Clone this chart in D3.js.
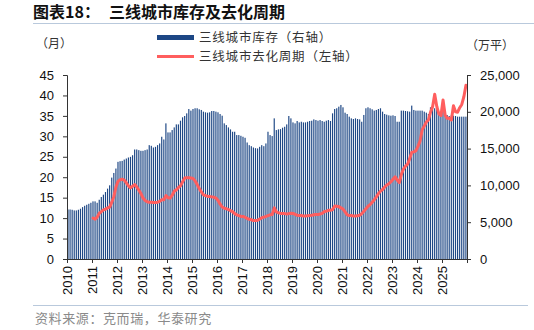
<!DOCTYPE html>
<html>
<head>
<meta charset="utf-8">
<script src="https://cdn.jsdelivr.net/npm/d3@7/dist/d3.min.js"></script>
<style>
  html, body { margin: 0; padding: 0; background: #fff; }
  svg { display: block; }
  text { font-family: "Liberation Sans", Arial, sans-serif; }
  .cjk { font-family: "Noto Sans CJK SC", "Noto Sans", sans-serif; }
</style>
</head>
<body>
<svg id="chart" width="534" height="330"></svg>
<script>
// ---------------- DATA ----------------
const titleLabel = "图表18：";
const titleText = "三线城市库存及去化周期";
const sourceText = "资料来源：克而瑞，华泰研究";
const leftUnit = "（月）";
const rightUnit = "（万平）";
const seriesNames = ["三线城市库存（右轴）", "三线城市去化周期（左轴）"];

const startYear = 2010;
const yearTicks = [2010,2011,2012,2013,2014,2015,2016,2017,2018,2019,2020,2021,2022,2023,2024,2025,2026];
const yearLabels = ["2010","2011","2012","2013","2014","2015","2016","2017","2018","2019","2020","2021","2022","2023","2024","2025",""];
const leftTicks = [0,5,10,15,20,25,30,35,40,45];
const rightTicks = [0,5000,10000,15000,20000,25000];

// 三线城市库存（万平）, monthly from 2010-01
const inventory = [
  6730,6730,6690,6600,6600,6690,6830,7050,7230,7370,7500,7640,
  7830,7830,7640,8050,8420,8740,9100,9560,10010,11060,11690,12290,
  13200,13290,13330,13510,13650,13790,13880,14100,14880,14880,14790,14700,
  14700,14790,14880,15470,15380,15150,15240,15470,15700,16610,16240,18430,
  17200,17200,17520,17880,18290,18290,18790,19250,19430,19790,20380,20160,
  20380,20480,20480,20340,20250,20020,19930,19880,19930,20110,20110,20020,
  19930,19700,19470,18430,18200,17880,17610,17290,17290,16840,16840,16740,
  16610,16470,15830,15470,15330,15150,15060,15020,15240,15470,15330,15700,
  17290,16840,16700,19110,17520,17610,17650,17840,17970,18290,19430,19110,
  18560,18430,18750,18560,18650,18560,18560,18650,18750,18790,18970,18880,
  18790,18880,18750,18650,18790,18880,18750,19790,20380,20480,20700,20930,
  20610,19880,19700,19340,19110,19020,19110,19020,18970,18650,19570,20480,
  20610,20480,20340,20160,20250,20380,20480,20020,19700,19610,19520,19470,
  19520,19430,18650,18650,20160,20160,20110,20070,20020,20840,20250,20160,
  20160,20160,20160,20020,19880,19700,20610,20840,20480,20480,19880,19570,
  21380,19790,19570,19430,19520,19470,19430,19340,19340,19340,19340,19340
];

// 三线城市去化周期（月）, monthly from 2011-01
const cycleStartIndex = 12;
const cycle = [
  10.0,9.75,10.25,11.2,11.6,12.0,12.2,12.5,12.7,13.9,15.3,17.6,
  19.0,19.4,19.5,19.3,18.6,17.9,17.4,17.8,18.2,17.6,16.8,16.0,
  14.9,14.3,14.0,13.9,13.9,13.8,13.8,13.9,14.1,14.5,14.5,15.5,
  15.0,14.9,15.6,16.6,16.9,17.5,17.9,18.9,19.8,19.9,19.9,19.8,
  19.7,19.1,18.2,17.2,16.4,15.7,15.5,15.3,15.3,15.2,15.1,14.9,
  14.3,13.4,12.7,12.4,12.3,12.1,11.8,11.6,11.1,10.8,10.6,10.4,
  10.4,10.2,9.9,9.7,9.6,9.4,9.4,9.5,9.75,10.1,10.25,10.4,
  10.6,10.8,10.9,12.5,11.5,11.3,11.15,11.1,11.1,11.0,11.1,11.2,
  11.15,10.9,10.7,10.65,10.65,10.5,10.5,10.6,10.65,10.7,10.8,10.9,
  10.9,11.0,11.15,11.6,11.7,11.9,11.9,12.1,12.95,12.9,12.8,12.5,
  12.2,11.5,10.8,10.65,10.65,10.5,10.5,10.6,10.7,11.1,11.7,12.3,
  12.9,13.3,13.9,14.5,15.2,16.0,16.6,17.0,17.6,18.1,18.4,18.9,
  19.5,20.1,19.3,18.7,20.7,22.0,22.7,23.2,24.6,26.1,26.2,26.5,
  27.6,28.9,31.6,32.5,33.5,34.0,35.9,37.3,40.3,37.3,35.5,35.1,
  38.9,35.2,34.4,34.4,34.0,37.5,36.0,35.9,37.0,37.8,39.7,42.5
];

// ---------------- CHART ----------------
const svg = d3.select("#chart");
const m = { left: 67, right: 467, top: 75, bottom: 259 };

const x = d3.scaleLinear().domain([startYear, 2026]).range([m.left, m.right]);
const yL = d3.scaleLinear().domain([0, 45]).range([m.bottom, m.top]);
const yR = d3.scaleLinear().domain([0, 25000]).range([m.bottom, m.top]);
const monthX = i => x(startYear + i / 12);
const monthW = monthX(1) - monthX(0);

// title
const title = svg.append("text").attr("class", "cjk")
  .attr("x", 33).attr("y", 18)
  .attr("font-size", 16).attr("font-weight", "bold").attr("fill", "#111");
title.append("tspan").text(titleLabel);
title.append("tspan").attr("dx", 9).text(titleText);

svg.append("line").attr("x1", 33).attr("x2", 534).attr("y1", 23.5).attr("y2", 23.5)
  .attr("stroke", "#b9c9dc").attr("stroke-width", 1);
svg.append("line").attr("x1", 33).attr("x2", 528).attr("y1", 305.5).attr("y2", 305.5)
  .attr("stroke", "#b9c9dc").attr("stroke-width", 1);

// bars
svg.append("g").selectAll("rect").data(inventory).join("rect")
  .attr("x", (d, i) => monthX(i) + 0.4)
  .attr("width", monthW * 0.56)
  .attr("y", d => yR(d))
  .attr("height", d => m.bottom - yR(d))
  .attr("fill", "#1d4785");

// line
const line = d3.line()
  .x((d, i) => monthX(cycleStartIndex + i) + monthW / 2)
  .y(d => yL(d))
  .curve(d3.curveLinear);
svg.append("path").datum(cycle)
  .attr("d", line).attr("fill", "none")
  .attr("stroke", "#ff5e5e").attr("stroke-width", 3)
  .attr("stroke-linejoin", "round").attr("stroke-linecap", "round");

// axes
const axisColor = "#333";
const gL = svg.append("g").attr("transform", `translate(${m.left},0)`)
  .call(d3.axisLeft(yL).tickValues(leftTicks).tickSize(4).tickPadding(9));
const gR = svg.append("g").attr("transform", `translate(${m.right},0)`)
  .call(d3.axisRight(yR).tickValues(rightTicks).tickSize(4).tickPadding(9).tickFormat(d3.format(",")));
const gB = svg.append("g").attr("transform", `translate(0,${m.bottom})`)
  .call(d3.axisBottom(x).tickValues(yearTicks).tickSize(4).tickFormat((d, i) => yearLabels[i]));

[gL, gR, gB].forEach(g => {
  g.select(".domain").attr("stroke", axisColor);
  g.selectAll(".tick line").attr("stroke", axisColor);
  g.selectAll("text").attr("font-size", 13).attr("fill", "#111")
    .attr("font-family", "'Liberation Sans', Arial, sans-serif");
});
gB.selectAll("text")
  .attr("transform", "rotate(-90)")
  .attr("text-anchor", "end")
  .attr("x", -7).attr("y", 0).attr("dy", "0.36em");

// unit labels
svg.append("text").attr("class", "cjk").attr("x", 36).attr("y", 48)
  .attr("font-size", 12).attr("fill", "#333").text(leftUnit);
svg.append("text").attr("class", "cjk").attr("x", 466).attr("y", 50)
  .attr("font-size", 12).attr("fill", "#333").text(rightUnit);

// legend
const lg = svg.append("g");
lg.append("rect").attr("x", 157).attr("y", 35).attr("width", 37).attr("height", 5).attr("fill", "#1d4785");
lg.append("line").attr("x1", 157).attr("x2", 194).attr("y1", 56.5).attr("y2", 56.5)
  .attr("stroke", "#ff5e5e").attr("stroke-width", 3);
lg.append("text").attr("class", "cjk").attr("x", 199).attr("y", 42)
  .attr("font-size", 12.5).attr("letter-spacing", 0.8).attr("fill", "#333").text(seriesNames[0]);
lg.append("text").attr("class", "cjk").attr("x", 199).attr("y", 61)
  .attr("font-size", 12.5).attr("letter-spacing", 0.8).attr("fill", "#333").text(seriesNames[1]);

// source
svg.append("text").attr("class", "cjk").attr("x", 35).attr("y", 323)
  .attr("font-size", 13).attr("letter-spacing", 0.6).attr("fill", "#8a8a8a").text(sourceText);
</script>
</body>
</html>
